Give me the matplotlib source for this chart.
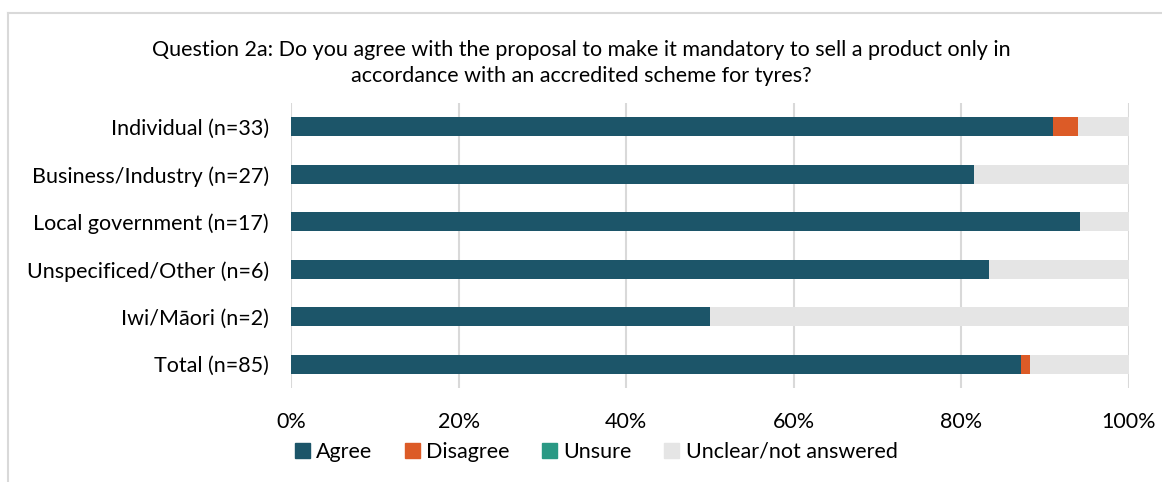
import numpy as np
import matplotlib.pyplot as plt
from matplotlib.lines import Line2D
from matplotlib.ticker import PercentFormatter

plt.rcParams['font.family'] = ['Lato', 'DejaVu Sans']

groups = ['Individual (n=33)', 'Business/Industry (n=27)', 'Local government (n=17)',
          'Unspecificed/Other (n=6)', 'Iwi/Māori (n=2)', 'Total (n=85)']
totals = np.array([33, 27, 17, 6, 2, 85])
agree = np.array([30, 22, 16, 5, 1, 74])
disagree = np.array([1, 0, 0, 0, 0, 1])
unsure = np.array([0, 0, 0, 0, 0, 0])
unclear = totals - agree - disagree - unsure

series = ['Agree', 'Disagree', 'Unsure', 'Unclear/not answered']
colours = ['#1c5569', '#dc5b27', '#2a9984', '#e5e5e5']

fs = 15.5

fig = plt.figure(figsize=(11.62, 4.82), dpi=100)
ax = fig.add_axes([291 / 1162, 1 - 388 / 482, (1129 - 291) / 1162, (388 - 103) / 482])

y = np.arange(len(groups))
left = np.zeros(len(groups))
for name, counts, col in zip(series, [agree, disagree, unsure, unclear], colours):
    share = counts / totals
    ax.barh(y, share, left=left, height=0.4, color=col, label=name, zorder=3)
    left += share

ax.set_xlim(0, 1)
ax.set_ylim(len(groups) - 0.5, -0.5)
ax.set_yticks(y)
ax.set_yticklabels(groups, fontsize=fs)
ax.set_xticks(np.linspace(0, 1, 6))
ax.xaxis.set_major_formatter(PercentFormatter(1.0, decimals=0))
ax.tick_params(axis='x', labelsize=fs, length=0, pad=17)
ax.tick_params(axis='y', length=0, pad=16)
ax.grid(axis='x', color='#d9d9d9', linewidth=1.5, zorder=0)
for s in ax.spines.values():
    s.set_visible(False)

fig.text(0.5, 1 - 63 / 482,
         'Question 2a: Do you agree with the proposal to make it mandatory to sell a product only in\n'
         'accordance with an accredited scheme for tyres?',
         ha='center', va='center', fontsize=fs, linespacing=1.35)

handles = [plt.Rectangle((0, 0), 1, 1, color=c) for c in colours]
fig.legend(handles, series, loc='center', bbox_to_anchor=(596 / 1162, 1 - 452 / 482),
           ncol=4, frameon=False, fontsize=fs, handlelength=0.7, handleheight=0.7,
           handletextpad=0.3, columnspacing=1.5)

# light frame along the top and left edges
fig.add_artist(Line2D([8 / 1162, 8 / 1162], [0, 1 - 13 / 482], color='#d9d9d9', lw=1.5,
                      transform=fig.transFigure))
fig.add_artist(Line2D([8 / 1162, 1], [1 - 13 / 482, 1 - 13 / 482], color='#d9d9d9', lw=1.5,
                      transform=fig.transFigure))

fig.savefig('out.png', dpi=100)
